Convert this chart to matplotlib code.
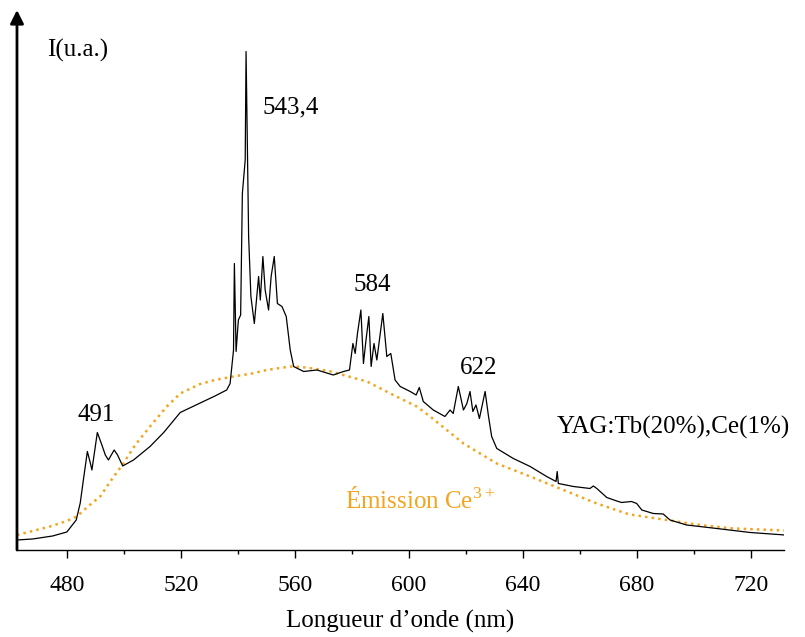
import numpy as np
import matplotlib
matplotlib.use('Agg')
import matplotlib.pyplot as plt
from matplotlib.ticker import MultipleLocator

# spectre YAG:Tb(20%),Ce(1%)
wl_tb = [462.5, 468, 475, 480, 483.3, 484.7, 485.8, 487.2, 488.2, 488.8, 490.7, 492.3,
         493.5, 494.6, 496.6, 497.8, 499.6, 503.4, 509.2, 514, 519.8, 526.8, 532, 536.1,
         537.3, 538.5, 538.8, 539.4, 540.2, 541.0, 541.6, 542.6, 542.9, 543.8, 544.6,
         545.8, 547.3, 547.9, 548.8, 549.6, 550.8, 551.7, 552.8, 553.9, 555.5, 557.0,
         558.4, 559.6, 563.1, 567.8, 573.5, 577.1, 579.2, 580.4, 581.2, 582.0, 583.2,
         584.1, 585.0, 586.0, 586.8, 587.8, 588.8, 590.9, 592.3, 593.7, 595.2, 597.0,
         600.5, 602.6, 603.7, 605.1, 608.6, 612.7, 614.5, 615.6, 617.4, 619.2, 620.4,
         621.5, 622.5, 623.6, 624.8, 626.8, 628.0, 629.1, 630.9, 636.7, 642.6, 648.4,
         651.7, 652.1, 652.5, 657.8, 663.6, 664.8, 666.0, 669.5, 673.0, 674.7, 678.2,
         680.0, 681.8, 685.8, 689.3, 691.7, 697.5, 708.1, 719.8, 732]
i_tb = [2.0, 2.2, 2.8, 3.6, 6, 9.4, 14, 19.7, 17.5, 16, 23.5, 21,
        19, 18, 20, 19, 16.8, 18, 20.7, 23.5, 27.5, 29.4, 30.8, 32,
        33.3, 40, 57.3, 39.7, 46, 47, 71.3, 78, 99.7, 62.7, 50.7,
        45.3, 54.7, 50, 58.7, 52, 48, 54.7, 58.7, 49.3, 48.7, 46.7,
        40, 36.7, 35.7, 36, 35, 35.7, 36, 41.3, 39.3, 43.3, 48,
        37.3, 42, 46.7, 36.7, 41.3, 38, 47.3, 38.7, 39.3, 34, 32.7,
        31.7, 31, 32.5, 29.7, 28, 26.7, 28, 27.3, 32.7, 28, 29.3,
        31.7, 27.7, 29, 26.3, 31.7, 26.7, 22.7, 20.3, 18.3, 16.7, 14.7,
        13.7, 15.7, 13.3, 12.7, 12.3, 12.8, 12.3, 10.5, 9.8, 9.5, 9.7,
        9.3, 8, 7.3, 7.2, 6, 5, 4.3, 3.5, 3]

# emission Ce3+
wl_ce = [462.5, 468, 474.1, 480, 483.5, 487, 491.7, 495, 499.8, 504, 509.2, 515.1,
         519.8, 526.8, 532, 538.5, 545, 550.2, 558.4, 562, 566.5, 572, 577, 585.3,
         594.6, 602.8, 607.5, 619.2, 630.9, 642.6, 654.3, 666, 676.4, 678.8, 690.5,
         702.2, 713.9, 732]
i_ce = [3, 3.8, 4.7, 5.8, 6.7, 8.5, 10.7, 13.5, 17.3, 21, 24.7, 28.7,
        31.3, 33.2, 34, 34.7, 35.3, 36, 36.7, 36.6, 36.3, 35.8, 35, 33.7,
        31, 28.7, 26.7, 21.3, 17.3, 14.7, 12, 9.3, 7.3, 7, 6,
        5, 4.3, 3.9]

peaks = ['491', '543,4', '584', '622']
peak_pos = [(490.3, 27), (548.5, 88.6), (587.2, 53), (624.4, 36.4)]
peak_ha = ['center', 'left', 'center', 'center']

orange = '#F5A41E'
plt.rcParams['font.family'] = ['Liberation Serif', 'DejaVu Serif']
plt.rcParams['mathtext.fontset'] = 'custom'
plt.rcParams['mathtext.rm'] = 'Liberation Serif'

fig = plt.figure(figsize=(8.05, 6.37), dpi=100)
ax = fig.add_axes([0.0211, 0.1366, 0.9528, 0.8477])

ax.plot(wl_ce, i_ce, ':', color=orange, lw=1.8, zorder=2)
ax.plot(wl_tb, i_tb, '-', color='black', lw=0.9, zorder=3)

ax.set_xlim(462.5, 731.7)
ax.set_ylim(0, 108)

for s in ['left', 'right', 'top']:
    ax.spines[s].set_visible(False)
ax.spines['bottom'].set_linewidth(1.0)
ax.annotate('', xy=(0, 1), xytext=(0, 0), xycoords='axes fraction',
            arrowprops=dict(arrowstyle='-|>', lw=2, color='black', mutation_scale=20,
                            shrinkA=0, shrinkB=0))

ax.set_yticks([])
ax.xaxis.set_major_locator(MultipleLocator(40))
ax.xaxis.set_minor_locator(MultipleLocator(20))
ax.tick_params(axis='x', which='major', length=6, width=1, pad=12, labelsize=17)
ax.tick_params(axis='x', which='minor', length=3, width=1)
ax.set_xlabel('Longueur d’onde (nm)', fontsize=18, labelpad=10)

for lab, (x, y), ha in zip(peaks, peak_pos, peak_ha):
    ax.text(x, y, lab, fontsize=18, ha=ha, va='center')

ax.text(473.1, 100, 'I(u.a.)', fontsize=18, ha='left', va='center')
ax.text(652, 24.6, 'YAG:Tb(20%),Ce(1%)', fontsize=18, ha='left', va='center')
ax.text(577.7, 10, 'Émission Ce$^{3+}$', fontsize=18, ha='left', va='center', color=orange)

fig.savefig('out.png', dpi=100)
